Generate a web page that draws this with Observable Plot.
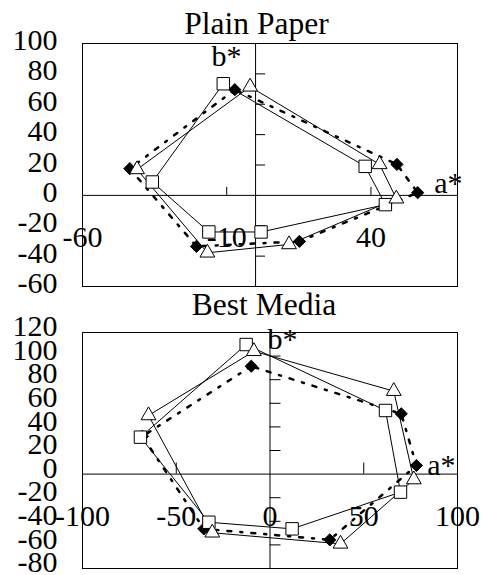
<!DOCTYPE html>
<html><head><meta charset="utf-8">
<script src="https://cdn.jsdelivr.net/npm/d3@7"></script>
<script src="https://cdn.jsdelivr.net/npm/@observablehq/plot@0.6"></script>
<style>
html,body{margin:0;padding:0;background:#fff;}
#c svg{display:block;}
</style>
</head><body><div id="c"></div>
<script>
// ---- Plain Paper (a*, b*) ----
const plainSquareA   = [-11.2, -35.8, -16.2,   1.9, 45.0, 38.0];
const plainSquareB   = [ 73.5,   8.8, -24.1, -24.1, -6.1, 19.1];
const plainTriangleA = [ -1.9, -41.1, -16.7,  11.6, 48.8, 43.0];
const plainTriangleB = [ 71.5,  17.1, -37.8, -32.3, -2.2, 20.4];
const plainDiamondA  = [ -7.2, -43.6, -20.5,  15.2, 56.2, 49.0];
const plainDiamondB  = [ 69.6,  17.6, -33.6, -30.3,  1.8, 20.4];
// ---- Best Media (a*, b*) ----
const bestSquareA    = [-12.7, -69.1, -32.6,  11.8,  69.6, 61.6];
const bestSquareB    = [109.8,  31.3, -40.8, -46.4, -15.3, 53.9];
const bestTriangleA  = [ -8.6, -64.8, -30.8,  37.6,  76.7, 66.0];
const bestTriangleB  = [104.1,  49.7, -49.7, -59.1,  -4.6, 70.3];
const bestDiamondA   = [-10.0, -68.0, -35.3,  31.9,  78.1, 70.0];
const bestDiamondB   = [ 91.4,  32.0, -46.4, -55.7,   7.3, 51.1];
// ---- tick labels ----
const plainXTicks = [-60, -10, 40];
const plainYTicks = [-60, -40, -20, 0, 20, 40, 60, 80, 100];
const bestXTicks  = [-100, -50, 0, 50, 100];
const bestYTicks  = [-80, -60, -40, -20, 0, 20, 40, 60, 80, 100, 120];
const titles = ["Plain Paper", "Best Media"];
const axisNames = ["a*", "b*"];

const FONT = "'Liberation Serif', 'Times New Roman', serif";
const pts = (A, B) => A.map((a, i) => ({a, b: B[i]}));
const loop = (A, B) => { const p = pts(A, B); return [...p, p[0]]; };

function chart(o) {
  const txt = {fontFamily: FONT, fontSize: 30, fill: "black"};
  return Plot.plot({
    width: 483, height: o.height,
    marginLeft: 82, marginRight: 26, marginTop: o.marginTop, marginBottom: o.marginBottom,
    x: {domain: o.xDomain, axis: null},
    y: {domain: o.yDomain, axis: null},
    style: {overflow: "visible", background: "transparent", fontFamily: FONT},
    marks: [
      Plot.frame({stroke: "black", strokeWidth: 1}),
      Plot.ruleY([0], {stroke: "black", strokeWidth: 1}),
      Plot.ruleX([0], {stroke: "black", strokeWidth: 1}),
      Plot.ruleY(o.yTicks.filter(d => d !== 0), {y: d => d, x1: 0, x2: 0, insetRight: -o.yTickLen, stroke: "black"}),
      Plot.ruleX(o.xTicks.filter(d => d !== 0), {x: d => d, y1: 0, y2: 0, insetTop: -o.xTickLen, stroke: "black"}),
      Plot.text(o.yTicks, {...txt, y: d => d, text: d => String(d), frameAnchor: "left", textAnchor: "end", lineAnchor: "middle", dx: -25, dy: o.yLabelDy}),
      Plot.text(o.xTicks, {...txt, x: d => d, y: 0, text: d => String(d), lineAnchor: "middle", dy: 42}),
      Plot.text([o.title], {...txt, fontSize: 31.5, frameAnchor: "top", lineAnchor: "bottom", dx: o.titleDx, dy: o.titleDy}),
      Plot.text([axisNames[1]], {...txt, x: 0, frameAnchor: "top", lineAnchor: "bottom", dx: o.bDx, dy: o.bDy}),
      Plot.text([axisNames[0]], {...txt, x: o.xDomain[1], y: 0, textAnchor: "end", lineAnchor: "bottom", dx: o.aDx, dy: o.aDy}),
      Plot.line(loop(o.sqA, o.sqB), {x: "a", y: "b", stroke: "black", strokeWidth: 1}),
      Plot.line(loop(o.trA, o.trB), {x: "a", y: "b", stroke: "black", strokeWidth: 1}),
      Plot.line(loop(o.diA, o.diB), {x: "a", y: "b", stroke: "black", strokeWidth: 2.5, strokeDasharray: "4,9,2,9"}),
      Plot.dot(pts(o.diA, o.diB), {x: "a", y: "b", symbol: "diamond2", r: 5.5, fill: "black", stroke: "black", strokeWidth: 1}),
      Plot.dot(pts(o.sqA, o.sqB), {x: "a", y: "b", symbol: "square", r: 7, fill: "white", stroke: "black", strokeWidth: 1}),
      Plot.dot(pts(o.trA, o.trB), {x: "a", y: "b", symbol: "triangle", r: 5.5, fill: "white", stroke: "black", strokeWidth: 1})
    ]
  });
}

const c = document.getElementById("c");
c.append(chart({
  title: titles[0], height: 290, marginTop: 43, marginBottom: 4,
  xDomain: [-60, 70], yDomain: [-60, 100], xTicks: plainXTicks, yTicks: plainYTicks,
  xTickLen: 8, yTickLen: 10, yLabelDy: -3, titleDx: -13.5, titleDy: -10,
  bDx: -29, bDy: 22, aDx: 5, aDy: -2,
  sqA: plainSquareA, sqB: plainSquareB, trA: plainTriangleA, trB: plainTriangleB, diA: plainDiamondA, diB: plainDiamondB
}));
c.append(chart({
  title: titles[1], height: 285, marginTop: 42, marginBottom: 7,
  xDomain: [-100, 100], yDomain: [-80, 120], xTicks: bestXTicks, yTicks: bestYTicks,
  xTickLen: 11, yTickLen: 11, yLabelDy: -6, titleDx: -6, titleDy: -18,
  bDx: 12.5, bDy: 16, aDx: -2, aDy: 1,
  sqA: bestSquareA, sqB: bestSquareB, trA: bestTriangleA, trB: bestTriangleB, diA: bestDiamondA, diB: bestDiamondB
}));
</script>
</body></html>
